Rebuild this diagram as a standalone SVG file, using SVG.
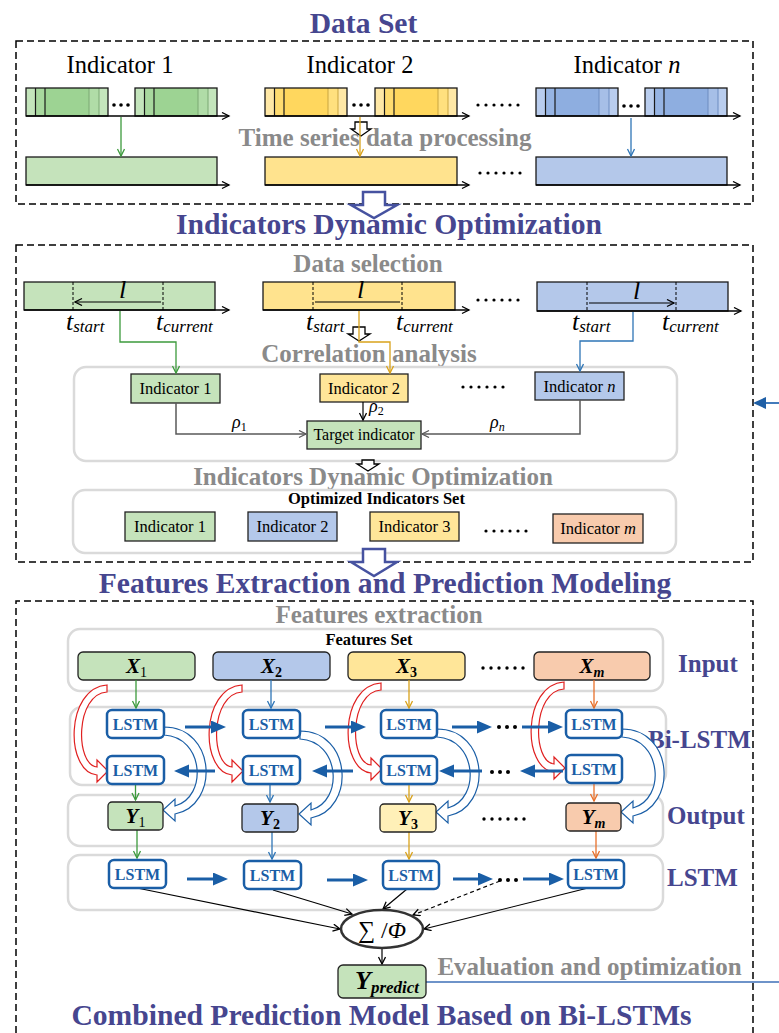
<svg xmlns="http://www.w3.org/2000/svg" xmlns:xlink="http://www.w3.org/1999/xlink" width="779" height="1033" viewBox="0 0 779 1033">
<defs>
<style>
text{font-family:"Liberation Serif","Times New Roman",serif}
.ttl{font-size:29.6px;font-weight:bold;fill:#46468f;text-anchor:middle}
.sub{font-size:25px;font-weight:bold;fill:#8a8a8a;text-anchor:middle}
.side{font-size:25px;font-weight:bold;fill:#46468f}
.ind{font-size:24.5px;fill:#000;text-anchor:middle}
.bx{font-size:16.5px;fill:#000;text-anchor:middle}
.set{font-size:16.5px;font-weight:bold;fill:#000;text-anchor:middle}
.ls{font-size:16px;font-weight:bold;fill:#1a5ea6;text-anchor:middle}
.xy{font-size:21px;font-weight:bold;font-style:italic;fill:#000;text-anchor:middle}
.sb{font-size:14px}
.tt{font-size:26px;font-style:italic;fill:#000}
.ts{font-size:17px}
.rho{font-size:18px;font-style:italic;fill:#000}
.frame{fill:none;stroke:#000;stroke-width:1.5;stroke-dasharray:7 4}
.grp{fill:none;stroke:#dadada;stroke-width:2.5}
.cell{stroke:#222;stroke-width:1.3}
.bar{stroke:#1a1a1a;stroke-width:1.3}
.lstm{fill:#fff;stroke:#1a5ea6;stroke-width:2.5}
.g{fill:#c5e3bb}.y{fill:#ffe699}.b{fill:#b4c8ea}.o{fill:#f8cbad}.y2{fill:#ffe38e}.y3{fill:#fff0b8}
.axis{fill:none;stroke:#000;stroke-width:1.5;marker-end:url(#ak)}
.dot{fill:#000}
.thick{fill:none;stroke:#1a5ea6;stroke-width:3;marker-end:url(#big)}
.cg{fill:none;stroke:#3c9a3c;stroke-width:1.3;marker-end:url(#ag)}
.cy{fill:none;stroke:#d9a21b;stroke-width:1.3;marker-end:url(#ay)}
.cb{fill:none;stroke:#2e75b6;stroke-width:1.3;marker-end:url(#ab)}
.co{fill:none;stroke:#e8702a;stroke-width:1.3;marker-end:url(#ao)}
.cgr{fill:none;stroke:#595959;stroke-width:1.5;marker-end:url(#agr)}
.ck{fill:none;stroke:#000;stroke-width:1.2;marker-end:url(#ak)}
.hollow{fill:#fff;stroke:#000;stroke-width:1.3}
.bighollow{fill:#fff;stroke:#4652a0;stroke-width:2.5}
.red{fill:#fff;stroke:#e02020;stroke-width:1.2}
.blu{fill:#fff;stroke:#1a5ea6;stroke-width:1.2}
</style>
<marker id="ak" markerUnits="userSpaceOnUse" markerWidth="10" markerHeight="10" refX="8" refY="4" orient="auto-start-reverse"><path d="M1,0.5 L8,4 L1,7.5" fill="none" stroke="#000" stroke-width="1.3"/></marker>
<marker id="ag" markerUnits="userSpaceOnUse" markerWidth="10" markerHeight="10" refX="8" refY="4" orient="auto"><path d="M1,0.5 L8,4 L1,7.5" fill="none" stroke="#3c9a3c" stroke-width="1.3"/></marker>
<marker id="ay" markerUnits="userSpaceOnUse" markerWidth="10" markerHeight="10" refX="8" refY="4" orient="auto"><path d="M1,0.5 L8,4 L1,7.5" fill="none" stroke="#d9a21b" stroke-width="1.3"/></marker>
<marker id="ab" markerUnits="userSpaceOnUse" markerWidth="10" markerHeight="10" refX="8" refY="4" orient="auto"><path d="M1,0.5 L8,4 L1,7.5" fill="none" stroke="#2e75b6" stroke-width="1.3"/></marker>
<marker id="ao" markerUnits="userSpaceOnUse" markerWidth="10" markerHeight="10" refX="8" refY="4" orient="auto"><path d="M1,0.5 L8,4 L1,7.5" fill="none" stroke="#e8702a" stroke-width="1.3"/></marker>
<marker id="agr" markerUnits="userSpaceOnUse" markerWidth="10" markerHeight="10" refX="8" refY="4" orient="auto"><path d="M1,0.5 L8,4 L1,7.5" fill="none" stroke="#595959" stroke-width="1.3"/></marker>
<marker id="big" markerUnits="userSpaceOnUse" markerWidth="16" markerHeight="14" refX="4" refY="6.5" orient="auto"><path d="M0,0 L15,6.5 L0,13 Z" fill="#1a5ea6"/></marker>
<!-- raw series blocks: light edges, darker body, separators -->
<g id="segG"><rect width="82" height="28" fill="#c4e5bc"/><rect x="9.5" width="9.5" height="28" fill="#a8d89e"/><rect x="19" width="44" height="28" fill="#9dd393"/><rect x="63" width="10" height="28" fill="#b0dca7"/><path d="M63,0V28M73,0V28" stroke="#7aa872" stroke-width="1"/><path d="M9.5,0V28M19,0V28" stroke="#1a1a1a" stroke-width="1.2"/><rect width="82" height="28" fill="none" stroke="#1a1a1a" stroke-width="1.3"/></g>
<g id="segY"><rect width="82" height="28" fill="#ffe8a6"/><rect x="9.5" width="9.5" height="28" fill="#ffdc70"/><rect x="19" width="44" height="28" fill="#ffd75e"/><rect x="63" width="10" height="28" fill="#ffe07e"/><path d="M63,0V28M73,0V28" stroke="#c9a540" stroke-width="1"/><path d="M9.5,0V28M19,0V28" stroke="#1a1a1a" stroke-width="1.2"/><rect width="82" height="28" fill="none" stroke="#1a1a1a" stroke-width="1.3"/></g>
<g id="segB"><rect width="82" height="28" fill="#b9cdee"/><rect x="9.5" width="9.5" height="28" fill="#96b4e3"/><rect x="19" width="44" height="28" fill="#8eaee0"/><rect x="63" width="10" height="28" fill="#a6bfe7"/><path d="M63,0V28M73,0V28" stroke="#6d8cc0" stroke-width="1"/><path d="M9.5,0V28M19,0V28" stroke="#1a1a1a" stroke-width="1.2"/><rect width="82" height="28" fill="none" stroke="#1a1a1a" stroke-width="1.3"/></g>
<!-- curved hollow arrows of the Bi-LSTM layer -->
<path id="redArc" class="red" d="M107,685 C65,688 65,772 97,775 L97,782 L108,771 L97,760 L97,767 C75,765 75,694 107,692 Z"/>
<path id="bluArc" class="blu" d="M164,727 C216,727 220,805 175,814 L175,821 L163,810 L175,799 L175,806 C208,797 204,737 164,735 Z"/>
</defs>

<rect width="779" height="1033" fill="#fff"/>

<!-- ===== Data set ===== -->
<text class="ttl" x="363.5" y="33">Data Set</text>
<rect class="frame" x="16" y="41" width="737" height="163"/>
<g id="dataset">
  <text class="ind" x="120" y="73">Indicator 1</text>
  <text class="ind" x="360" y="73">Indicator 2</text>
  <text class="ind" x="627" y="73">Indicator <tspan font-style="italic">n</tspan></text>
  <g id="raw-series">
    <use xlink:href="#segG" x="26" y="88"/><use xlink:href="#segG" x="135" y="88"/>
    <use xlink:href="#segY" x="265" y="88"/><use xlink:href="#segY" x="375" y="88"/>
    <use xlink:href="#segB" x="536" y="88"/><use xlink:href="#segB" x="645" y="88"/>
    <path class="axis" d="M26,116 H229"/>
    <path class="axis" d="M265,116 H469"/>
    <path class="axis" d="M536,116 H740"/>
    <g class="dot">
      <circle cx="114" cy="105" r="1.8"/><circle cx="121" cy="105" r="1.8"/><circle cx="128" cy="105" r="1.8"/>
      <circle cx="354" cy="105" r="1.8"/><circle cx="361" cy="105" r="1.8"/><circle cx="368" cy="105" r="1.8"/>
      <circle cx="624" cy="106" r="1.8"/><circle cx="631" cy="106" r="1.8"/><circle cx="638" cy="106" r="1.8"/>
      <circle cx="478" cy="105" r="1.6"/><circle cx="486" cy="105" r="1.6"/><circle cx="494" cy="105" r="1.6"/><circle cx="502" cy="105" r="1.6"/><circle cx="510" cy="105" r="1.6"/><circle cx="518" cy="105" r="1.6"/>
    </g>
  </g>
  <text class="sub" x="385" y="146">Time series data processing</text>
  <g id="processed-series">
    <rect class="bar g" x="26" y="157" width="191" height="28"/>
    <rect class="bar y2" x="265" y="157" width="192" height="28"/>
    <rect class="bar b" x="536" y="157" width="191" height="28"/>
    <path class="axis" d="M26,185 H229"/>
    <path class="axis" d="M265,185 H469"/>
    <path class="axis" d="M536,185 H740"/>
    <g class="dot"><circle cx="480" cy="173" r="1.6"/><circle cx="488" cy="173" r="1.6"/><circle cx="496" cy="173" r="1.6"/><circle cx="504" cy="173" r="1.6"/><circle cx="512" cy="173" r="1.6"/><circle cx="520" cy="173" r="1.6"/></g>
  </g>
  <path class="hollow" d="M355,122 H367 V129 H371 L361,136 L351,129 H355 Z"/>
</g>
<g id="dataset-links">
  <path class="cg" d="M121,117 V156"/>
  <path class="cy" d="M360,117 V156"/>
  <path class="cb" d="M631,118 V156"/>
</g>

<!-- ===== Indicators dynamic optimization ===== -->
<rect class="frame" x="16" y="245" width="737" height="317"/>
<text class="ttl" x="389" y="234">Indicators Dynamic Optimization</text>
<text class="sub" x="368" y="272">Data selection</text>
<g id="window-series">
  <rect class="bar g" x="24" y="282" width="191" height="28"/>
  <rect class="bar y2" x="263" y="282" width="192" height="28"/>
  <rect class="bar b" x="537" y="282" width="191" height="29"/>
  <path class="axis" d="M24,310 H229"/>
  <path class="axis" d="M263,310 H469"/>
  <path class="axis" d="M537,311 H741"/>
  <path d="M73,282V310M163,282V310M313,282V310M402,282V310M587,282V311M676,282V311" stroke="#000" stroke-width="1" stroke-dasharray="3 2"/>
  <path d="M75,302 H161 M315,302 H400 M589,303 H674" fill="none" stroke="#000" stroke-width="1.2" marker-start="url(#ak)" marker-end="url(#ak)"/>
  <text class="tt" x="119" y="298">l</text>
  <text class="tt" x="357" y="298">l</text>
  <text class="tt" x="633" y="299">l</text>
  <text class="tt" x="66" y="330">t<tspan class="ts" dy="2">start</tspan></text>
  <text class="tt" x="156" y="330">t<tspan class="ts" dy="2">current</tspan></text>
  <text class="tt" x="306" y="330">t<tspan class="ts" dy="2">start</tspan></text>
  <text class="tt" x="396" y="330">t<tspan class="ts" dy="2">current</tspan></text>
  <text class="tt" x="572" y="330">t<tspan class="ts" dy="2">start</tspan></text>
  <text class="tt" x="662" y="330">t<tspan class="ts" dy="2">current</tspan></text>
  <g class="dot"><circle cx="478" cy="300" r="1.6"/><circle cx="486" cy="300" r="1.6"/><circle cx="494" cy="300" r="1.6"/><circle cx="502" cy="300" r="1.6"/><circle cx="510" cy="300" r="1.6"/><circle cx="518" cy="300" r="1.6"/></g>
</g>
<text class="sub" x="369" y="362">Correlation analysis</text>
<path class="hollow" d="M353,327 H365 V334 H370 L359,341 L348,334 H353 Z"/>
<rect class="grp" x="74" y="367" width="603" height="94" rx="12"/>
<g id="corr-ind1"><rect class="cell g" x="131" y="374" width="89" height="29"/><text class="bx" x="175.5" y="394">Indicator 1</text></g>
<g id="corr-ind2"><rect class="cell y" x="320" y="374" width="88" height="28"/><text class="bx" x="364" y="394">Indicator 2</text></g>
<g id="corr-indn"><rect class="cell b" x="535" y="372" width="89" height="28"/><text class="bx" x="579.5" y="392">Indicator <tspan font-style="italic">n</tspan></text></g>
<g class="dot"><circle cx="463" cy="387" r="1.6"/><circle cx="471" cy="387" r="1.6"/><circle cx="479" cy="387" r="1.6"/><circle cx="487" cy="387" r="1.6"/><circle cx="495" cy="387" r="1.6"/><circle cx="503" cy="387" r="1.6"/></g>
<g id="target"><rect class="cell g" x="307" y="421" width="114" height="28"/><text class="bx" x="364" y="440" style="font-size:16px">Target indicator</text></g>
<text class="rho" x="232" y="428">ρ<tspan font-size="12" font-style="normal" dy="3">1</tspan></text>
<text class="rho" x="369" y="412">ρ<tspan font-size="12" font-style="normal" dy="3">2</tspan></text>
<text class="rho" x="490" y="428">ρ<tspan font-size="12" dy="3">n</tspan></text>
<path class="hollow" d="M362,460 H374 V464 H379 L368,471 L357,464 H362 Z"/>
<text class="sub" x="373" y="485">Indicators Dynamic Optimization</text>
<rect class="grp" x="73" y="490" width="603" height="63" rx="12"/>
<text class="set" x="376.5" y="504">Optimized Indicators Set</text>
<g id="opt-ind1"><rect class="cell g" x="125" y="512" width="90" height="29"/><text class="bx" x="170" y="532">Indicator 1</text></g>
<g id="opt-ind2"><rect class="cell b" x="248" y="512" width="89" height="29"/><text class="bx" x="292.5" y="532">Indicator 2</text></g>
<g id="opt-ind3"><rect class="cell y" x="370" y="512" width="89" height="29"/><text class="bx" x="414.5" y="532">Indicator 3</text></g>
<g id="opt-indm"><rect class="cell o" x="553" y="514" width="90" height="29"/><text class="bx" x="598" y="534">Indicator <tspan font-style="italic">m</tspan></text></g>
<g class="dot"><circle cx="486" cy="531" r="1.6"/><circle cx="494" cy="531" r="1.6"/><circle cx="502" cy="531" r="1.6"/><circle cx="510" cy="531" r="1.6"/><circle cx="518" cy="531" r="1.6"/><circle cx="526" cy="531" r="1.6"/></g>
<g id="selection-links">
  <path class="cg" d="M120,311 V342 H176 V373"/>
  <path class="cy" d="M359,311 V342 H390 V373"/>
  <path class="cb" d="M633,312 V341 H580 V371"/>
  <path class="cgr" d="M176,403 V434 H306"/>
  <path class="ck" d="M363,402 V420"/>
  <path class="cgr" d="M580,400 V434 H422"/>
</g>
<g id="feedback">
  <path d="M765,403 H779" stroke="#2e6db4" stroke-width="1.8"/>
  <path d="M753,403 L766,397 L766,409 Z" fill="#1f5fa6"/>
</g>

<!-- stage arrows -->
<path class="bighollow" d="M363,192 H385 V205 H397 L374,218 L351,205 H363 Z"/>

<!-- ===== Features extraction and prediction modeling ===== -->
<path class="frame" d="M16,1033 V601 H753 V1033"/>
<path class="bighollow" d="M363,549 H385 V562 H397 L374,576 L351,562 H363 Z"/>
<text class="ttl" x="385" y="593">Features Extraction and Prediction Modeling</text>
<text class="sub" x="379" y="623">Features extraction</text>
<rect class="grp" x="68" y="629" width="595" height="62" rx="12"/>
<rect class="grp" x="70" y="707" width="596" height="78" rx="12"/>
<rect class="grp" x="68" y="795" width="595" height="51" rx="12"/>
<rect class="grp" x="68" y="855" width="595" height="55" rx="12"/>
<text class="set" x="369" y="645">Features Set</text>
<text class="side" x="678" y="672">Input</text>
<text class="side" x="648" y="748">Bi-LSTM</text>
<text class="side" x="667" y="824">Output</text>
<text class="side" x="667" y="886">LSTM</text>

<g id="x1"><rect class="cell g" x="78" y="652" width="117" height="28" rx="5"/><text class="xy" x="136.5" y="673">X<tspan class="sb" font-weight="normal" font-style="normal" dy="4">1</tspan></text></g>
<g id="x2"><rect class="cell b" x="213" y="652" width="117" height="28" rx="5"/><text class="xy" x="271.5" y="673">X<tspan class="sb" font-style="normal" dy="4">2</tspan></text></g>
<g id="x3"><rect class="cell y" x="348" y="652" width="117" height="28" rx="5"/><text class="xy" x="406.5" y="673">X<tspan class="sb" font-style="normal" dy="4">3</tspan></text></g>
<g id="xm"><rect class="cell o" x="534" y="652" width="116" height="28" rx="5"/><text class="xy" x="592" y="673">X<tspan class="sb" dy="4">m</tspan></text></g>
<g class="dot"><circle cx="483" cy="668" r="1.7"/><circle cx="491" cy="668" r="1.7"/><circle cx="499" cy="668" r="1.7"/><circle cx="507" cy="668" r="1.7"/><circle cx="515" cy="668" r="1.7"/><circle cx="523" cy="668" r="1.7"/></g>

<g id="connectors">
  <!-- backward-direction hand-over arcs (red) -->
  <use xlink:href="#redArc"/>
  <use xlink:href="#redArc" x="135"/>
  <use xlink:href="#redArc" x="274" y="-2"/>
  <use xlink:href="#redArc" x="457" y="-3"/>
  <!-- forward-state arcs into outputs (blue) -->
  <use xlink:href="#bluArc"/>
  <use xlink:href="#bluArc" x="136" y="4"/>
  <use xlink:href="#bluArc" x="273" y="2"/>
  <use xlink:href="#bluArc" x="458" y="2"/>
  <!-- inputs to cells -->
  <path class="cg" d="M136,680 V708"/>
  <path class="cb" d="M271,680 V708"/>
  <path class="cy" d="M409,680 V708"/>
  <path class="co" d="M594,680 V708"/>
  <!-- cells to outputs -->
  <path class="cg" d="M135.5,784 V800"/>
  <path class="cb" d="M270,784 V802"/>
  <path class="cy" d="M409,784 V802"/>
  <path class="co" d="M594,784 V801"/>
  <!-- outputs to second LSTM layer -->
  <path class="cg" d="M137,830 V858"/>
  <path class="cb" d="M272,832 V859"/>
  <path class="cy" d="M409,832 V859"/>
  <path class="co" d="M596,831 V858"/>
  <!-- recurrent arrows -->
  <path class="thick" d="M185,727 H215"/>
  <path class="thick" d="M325,727 H355"/>
  <path class="thick" d="M452,727 H481"/>
  <path class="thick" d="M522,727 H552"/>
  <path class="thick" d="M215,771 H185"/>
  <path class="thick" d="M353,771 H323"/>
  <path class="thick" d="M482,771 H450"/>
  <path class="thick" d="M563,771 H531"/>
  <path class="thick" d="M187,879 H217"/>
  <path class="thick" d="M327,880 H357"/>
  <path class="thick" d="M453,879 H482"/>
  <path class="thick" d="M523,879 H553"/>
  <!-- aggregation -->
  <path class="ck" d="M137,888 L340,929"/>
  <path class="ck" d="M273,890 L352,914"/>
  <path class="ck" d="M407,889 L383,909"/>
  <path class="ck" d="M500,881 L413,915" stroke-dasharray="4 3"/>
  <path class="ck" d="M588,888 L424,929"/>
  <path class="ck" d="M382,948 V964"/>
  <path d="M426,982 H779" stroke="#6e93c9" stroke-width="1.8"/>
</g>
<g class="dot">
  <circle cx="499" cy="727" r="2"/><circle cx="507" cy="727" r="2"/><circle cx="515" cy="727" r="2"/>
  <circle cx="492" cy="772" r="2"/><circle cx="500" cy="772" r="2"/><circle cx="508" cy="772" r="2"/>
  <circle cx="500" cy="880" r="2"/><circle cx="508" cy="880" r="2"/><circle cx="516" cy="880" r="2"/>
  <circle cx="484" cy="819" r="1.7"/><circle cx="492" cy="819" r="1.7"/><circle cx="500" cy="819" r="1.7"/><circle cx="508" cy="819" r="1.7"/><circle cx="516" cy="819" r="1.7"/><circle cx="524" cy="819" r="1.7"/>
</g>

<g id="bilstm-fwd">
  <rect class="lstm" x="107" y="710" width="57" height="28" rx="5"/><text class="ls" x="135.5" y="730">LSTM</text>
  <rect class="lstm" x="243" y="710" width="57" height="28" rx="5"/><text class="ls" x="271.5" y="730">LSTM</text>
  <rect class="lstm" x="381" y="710" width="56" height="28" rx="5"/><text class="ls" x="409" y="730">LSTM</text>
  <rect class="lstm" x="566" y="710" width="56" height="28" rx="5"/><text class="ls" x="594" y="730">LSTM</text>
</g>
<g id="bilstm-bwd">
  <rect class="lstm" x="107" y="756" width="57" height="28" rx="5"/><text class="ls" x="135.5" y="776">LSTM</text>
  <rect class="lstm" x="243" y="756" width="57" height="28" rx="5"/><text class="ls" x="271.5" y="776">LSTM</text>
  <rect class="lstm" x="381" y="756" width="56" height="28" rx="5"/><text class="ls" x="409" y="776">LSTM</text>
  <rect class="lstm" x="566" y="755" width="56" height="28" rx="5"/><text class="ls" x="594" y="775">LSTM</text>
</g>
<g id="y1"><rect class="cell g" x="108" y="802" width="55" height="28" rx="4"/><text class="xy" x="135.5" y="823">Y<tspan class="sb" font-weight="normal" font-style="normal" dy="4">1</tspan></text></g>
<g id="y2"><rect class="cell b" x="242" y="804" width="56" height="28" rx="4"/><text class="xy" x="270" y="825">Y<tspan class="sb" font-style="normal" dy="4">2</tspan></text></g>
<g id="y3"><rect class="cell y3" x="380" y="804" width="56" height="28" rx="4"/><text class="xy" x="408" y="825">Y<tspan class="sb" font-style="normal" dy="4">3</tspan></text></g>
<g id="ym"><rect class="cell o" x="566" y="803" width="55" height="28" rx="4"/><text class="xy" x="593.5" y="824">Y<tspan class="sb" dy="4">m</tspan></text></g>
<g id="lstm-layer">
  <rect class="lstm" x="109" y="860" width="57" height="28" rx="5"/><text class="ls" x="137.5" y="880">LSTM</text>
  <rect class="lstm" x="244" y="861" width="57" height="28" rx="5"/><text class="ls" x="272.5" y="881">LSTM</text>
  <rect class="lstm" x="383" y="861" width="56" height="28" rx="5"/><text class="ls" x="411" y="881">LSTM</text>
  <rect class="lstm" x="568" y="860" width="56" height="28" rx="5"/><text class="ls" x="596" y="880">LSTM</text>
</g>
<g id="combiner">
  <ellipse cx="382" cy="929" rx="41" ry="19" fill="#fff" stroke="#333" stroke-width="2.5"/>
  <text x="382" y="938" text-anchor="middle" font-size="24" fill="#000">∑ /<tspan font-style="italic">Φ</tspan></text>
</g>
<g id="ypredict">
  <rect class="cell g" x="338" y="965" width="88" height="33" rx="5"/>
  <text x="355" y="989" font-size="26" font-weight="bold" font-style="italic" fill="#000">Y<tspan font-size="17" dy="4">predict</tspan></text>
</g>
<text class="sub" x="589.5" y="975">Evaluation and optimization</text>
<text class="ttl" x="381.5" y="1025">Combined Prediction Model Based on Bi-LSTMs</text>
</svg>
